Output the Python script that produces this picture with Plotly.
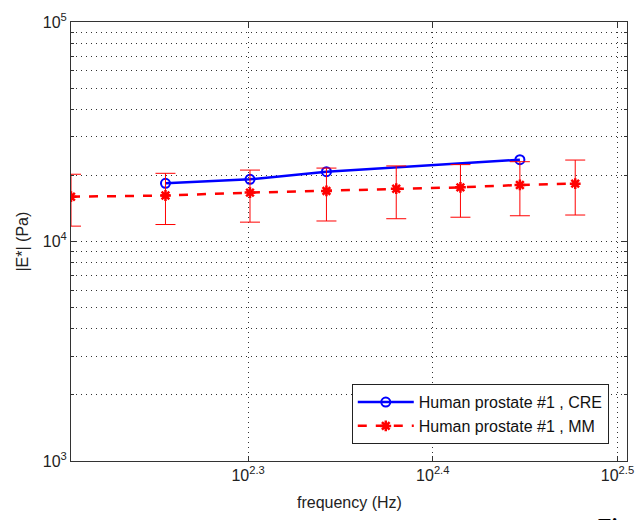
import plotly.graph_objects as go
import numpy as np

# Data
freq_mm = [160, 180, 200, 220, 240, 260, 280, 300]
E_mm = [16000, 16200, 16700, 17000, 17400, 17650, 18100, 18350]
err_mm = [4250, 4250, 4450, 4600, 4700, 4750, 5000, 5150]

freq_cre = [180, 200, 220, 280]
E_cre = [18400, 19200, 20800, 23600]

x_ticks = [10**2.3, 10**2.4, 10**2.5]
x_ticktext = ["10<sup>2.3</sup>", "10<sup>2.4</sup>", "10<sup>2.5</sup>"]
y_major = [1e3, 1e4, 1e5]
y_ticktext = ["10<sup>3</sup>", "10<sup>4</sup>", "10<sup>5</sup>"]
y_minor = [m * 10**d for d in (3, 4) for m in range(2, 10)]

FONT = "Liberation Sans, Arial, sans-serif"
DOT = "1px,4px"

fig = go.Figure()
fig.add_trace(go.Scatter(
    x=freq_cre, y=E_cre, mode="lines+markers",
    name="Human prostate #1 , CRE",
    line=dict(color="#0000ff", width=2.5),
    marker=dict(symbol="circle-open", size=9, color="#0000ff", line=dict(width=2)),
))
fig.add_trace(go.Scatter(
    x=freq_mm, y=E_mm, mode="lines+markers",
    name="Human prostate #1 , MM",
    line=dict(color="#ff0000", width=2.5, dash="dash"),
    marker=dict(symbol="asterisk-open", size=9, color="#ff0000", line=dict(width=2.5, color="#ff0000")),
    error_y=dict(type="data", array=err_mm, visible=True, color="#ff0000", thickness=1, width=10),
))

grid = dict(showgrid=True, gridcolor="#333", gridwidth=1, griddash=DOT)

fig.update_xaxes(
    type="log", range=[np.log10(160), np.log10(320)],
    tickmode="array", tickvals=x_ticks, ticktext=x_ticktext,
    ticks="inside", ticklen=5, tickcolor="#333",
    showline=True, linecolor="#333", linewidth=1, mirror="ticks",
    zeroline=False, automargin=False,
    tickfont=dict(family=FONT, size=16, color="#222"),
    **grid,
)
fig.update_yaxes(
    type="log", range=[3, 5],
    tickmode="array", tickvals=y_major, ticktext=y_ticktext,
    ticks="inside", ticklen=5, tickcolor="#333",
    showline=True, linecolor="#333", linewidth=1, mirror="ticks",
    zeroline=False, automargin=False,
    tickfont=dict(family=FONT, size=16, color="#222"),
    minor=dict(tickmode="array", tickvals=y_minor, ticks="inside", ticklen=3,
               tickcolor="#333", showgrid=True, gridcolor="#333", griddash=DOT),
    **grid,
)

fig.add_annotation(text="frequency (Hz)", xref="paper", yref="paper",
                   x=0.5, y=-0.095, xanchor="center", yanchor="middle",
                   showarrow=False, font=dict(family=FONT, size=16, color="#222"))
fig.add_annotation(text="|E*| (Pa)", xref="paper", yref="paper",
                   x=-0.088, y=0.5, xanchor="center", yanchor="middle", textangle=-90,
                   showarrow=False, font=dict(family=FONT, size=16, color="#222"))
fig.add_annotation(text="<b>Fig</b>", xref="paper", yref="paper",
                   x=0.945, y=-0.114, xanchor="left", yanchor="top",
                   showarrow=False, font=dict(family="Liberation Serif, Times New Roman, serif", size=22, color="#000"))

fig.update_layout(
    width=642, height=520,
    margin=dict(l=71, r=15, t=22, b=59),
    paper_bgcolor="white", plot_bgcolor="white",
    showlegend=True,
    legend=dict(x=0.505, y=0.175, xanchor="left", yanchor="top",
                bgcolor="white", bordercolor="#222", borderwidth=1,
                font=dict(family=FONT, size=16, color="#111"),
                tracegroupgap=0, itemwidth=56),
)

fig.write_html("out.html", config={"displayModeBar": False},
               post_script="document.body.style.margin='0';document.body.style.overflow='hidden';")
